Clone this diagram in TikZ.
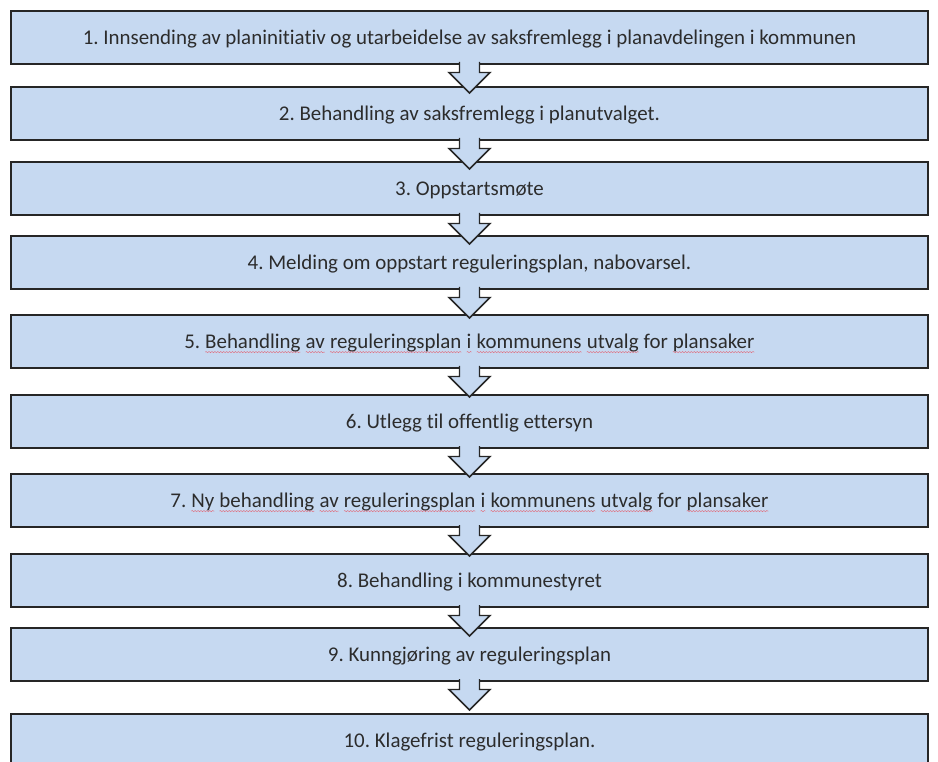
\documentclass[tikz,border=0pt]{standalone}
\usepackage{fontspec}
\setmainfont{Carlito}[Ligatures=NoCommon]
\usetikzlibrary{decorations.pathmorphing}
\frenchspacing

\definecolor{boxblue}{HTML}{C6D9F1}
\definecolor{boxline}{HTML}{262626}
\definecolor{txtgray}{HTML}{2C2C2C}
\definecolor{spellred}{HTML}{E07080}

% red wavy proofing underline under one word
\newcommand{\spellwave}[1]{\tikz[baseline=(w.base)]{\node[draw=none, fill=none, minimum width=0pt,
        minimum height=0pt, inner sep=0pt, outer sep=0pt, text height=, text depth=] (w) {#1};
    \draw[spellred, line width=0.35pt, decorate, decoration={snake, amplitude=0.45pt, segment length=2.2pt}]
        ([yshift=-2.7pt]w.base west) -- ([yshift=-2.7pt]w.base east);}}

\begin{document}
\begin{tikzpicture}[x=0.75pt, y=-0.75pt,
    stepbox/.style={draw=boxline, line width=1.6pt, fill=boxblue, minimum width=687.75pt,
        minimum height=39.75pt, inner sep=0pt, outer sep=0pt, text=txtgray,
        text height=13.6pt, text depth=3.1pt, font=\fontsize{15.7}{19}\selectfont},
    flowarrow/.style={draw=boxline, line width=1.1pt, fill=boxblue, line join=miter}]
    \useasboundingbox (0,0) rectangle (938,762);
    \clip (0,0) rectangle (938,762);
    % The ten steps
    \node[stepbox] (b1) at (469.5, 37.5) {1. Innsending av planinitiativ og utarbeidelse av saksfremlegg i planavdelingen i kommunen};
    \node[stepbox] (b2) at (469.5, 113.5) {2. Behandling av saksfremlegg i planutvalget.};
    \node[stepbox] (b3) at (469.5, 188.5) {3. Oppstartsmøte};
    \node[stepbox] (b4) at (469.5, 262.5) {4. Melding om oppstart reguleringsplan, nabovarsel.};
    \node[stepbox] (b5) at (469.5, 341.5) {5. \spellwave{Behandling} \spellwave{av} \spellwave{reguleringsplan} \spellwave{i} \spellwave{kommunens} \spellwave{utvalg} for \spellwave{plansaker}};
    \node[stepbox] (b6) at (469.5, 421.5) {6. Utlegg til offentlig ettersyn};
    \node[stepbox] (b7) at (469.5, 500.5) {7. \spellwave{Ny} \spellwave{behandling} \spellwave{av} \spellwave{reguleringsplan} \spellwave{i} \spellwave{kommunens} \spellwave{utvalg} for \spellwave{plansaker}};
    \node[stepbox] (b8) at (469.5, 580.5) {8. Behandling i kommunestyret};
    \node[stepbox] (b9) at (469.5, 654.5) {9. Kunngjøring av reguleringsplan};
    \node[stepbox] (b10) at (469.5, 740.5) {10. Klagefrist reguleringsplan.};
    % Block arrows between the steps
    \foreach \i in {1,...,9} {
        \filldraw[flowarrow, shift={(b\i.south)}] (-10,-2) -- (-10,8.5) -- (-20.5,8.5) -- (0,29)
            -- (20.5,8.5) -- (10,8.5) -- (10,-2);
    }
\end{tikzpicture}
\end{document}
